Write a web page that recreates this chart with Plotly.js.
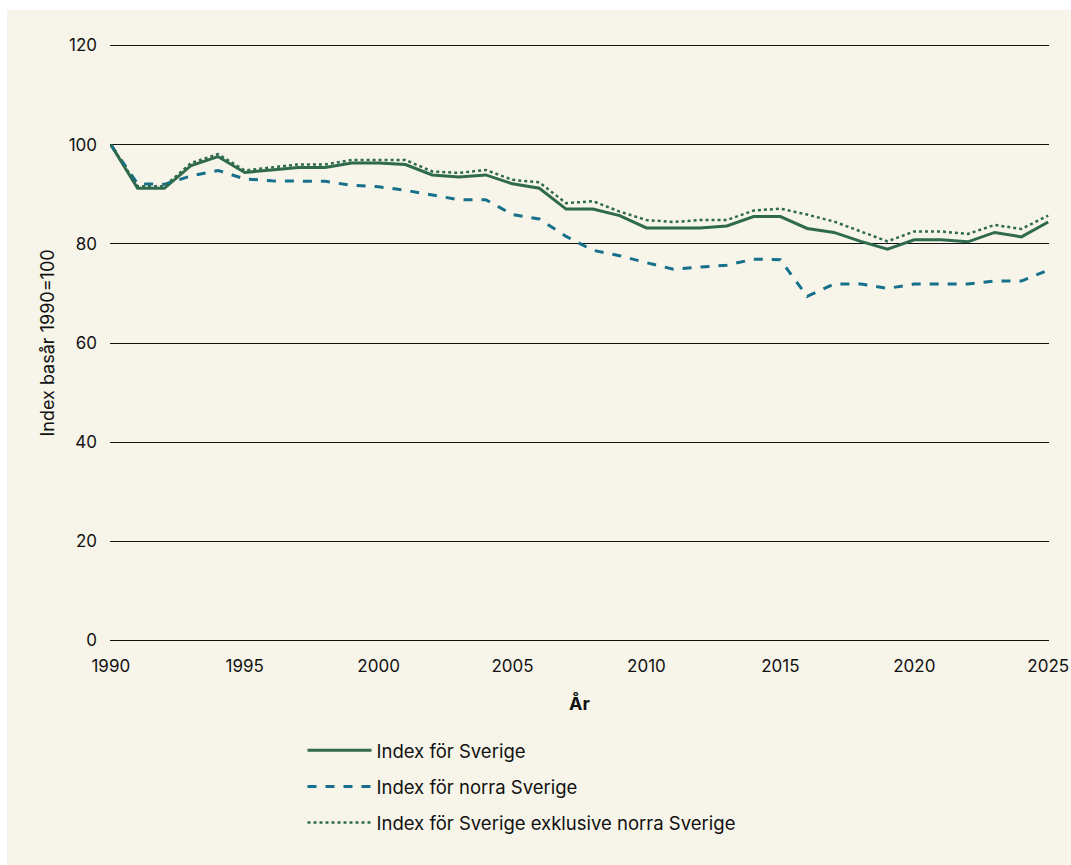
<!DOCTYPE html>
<html>
<head>
<meta charset="utf-8">
<script src="https://cdn.plot.ly/plotly-3.0.1.min.js"></script>
<style>
html,body{margin:0;padding:0;background:#ffffff;}
#chart{position:absolute;left:7px;top:10px;width:1064px;height:855px;}
</style>
</head>
<body>
<div id="chart"></div>
<script>
const years = [1990,1991,1992,1993,1994,1995,1996,1997,1998,1999,2000,2001,2002,2003,2004,2005,2006,2007,2008,2009,2010,2011,2012,2013,2014,2015,2016,2017,2018,2019,2020,2021,2022,2023,2024,2025];
const indexSverige = [100,91.2,91.2,95.8,97.6,94.4,94.9,95.4,95.4,96.3,96.3,96.0,93.9,93.5,93.9,92.1,91.2,87.0,87.0,85.7,83.2,83.2,83.2,83.6,85.5,85.5,83.1,82.3,80.5,78.9,80.8,80.8,80.4,82.3,81.4,84.4];
const indexNorra = [100,92.1,92.0,93.7,94.8,93.1,92.7,92.6,92.6,91.8,91.5,90.8,89.9,88.9,88.9,85.9,85.0,81.5,78.7,77.6,76.2,74.9,75.3,75.7,76.9,76.8,69.4,71.9,71.9,71.0,71.9,71.9,71.9,72.5,72.5,74.7];
const indexExkl = [100,91.6,91.6,96.3,98.1,94.8,95.4,96.0,96.0,96.9,96.9,96.9,94.6,94.3,94.9,92.9,92.4,88.2,88.6,86.5,84.8,84.4,84.8,84.8,86.7,87.1,85.9,84.5,82.5,80.5,82.5,82.5,82.0,83.8,83.0,85.7];
const seriesNames = ["Index för Sverige","Index för norra Sverige","Index för Sverige exklusive norra Sverige"];
const xTicks = [1990,1995,2000,2005,2010,2015,2020,2025];
const yTicks = [0,20,40,60,80,100,120];

const green = "#2f6a4e";
const teal = "#16708c";
const font = "Inter, 'Open Sans', sans-serif";

const traces = [
  {x: years, y: indexSverige, name: seriesNames[0], legendgroup: "a", type: "scatter", mode: "lines",
   line: {color: green, width: 3, dash: "solid"}},
  {x: years, y: indexNorra, name: seriesNames[1], legendgroup: "b", type: "scatter", mode: "lines",
   line: {color: teal, width: 3, dash: "dash"}},
  {x: years, y: indexExkl, name: seriesNames[2], legendgroup: "c", type: "scatter", mode: "lines",
   line: {color: green, width: 2.5, dash: "dot"}}
];

const layout = {
  width: 1064, height: 855,
  paper_bgcolor: "#f7f5e9",
  plot_bgcolor: "#f7f5e9",
  margin: {l: 103, r: 22, t: 33, b: 222},
  font: {family: font, size: 17, color: "#111111"},
  showlegend: true,
  legend: {
    x: 0.205, xanchor: "left", y: -0.148, yanchor: "top",
    orientation: "v", bgcolor: "rgba(0,0,0,0)",
    font: {family: font, size: 18.5, color: "#111111"},
    itemwidth: 64, tracegroupgap: 9, traceorder: "grouped"
  },
  xaxis: {
    range: [1989.97, 2025.03], tickvals: xTicks, ticktext: xTicks.map(String),
    showgrid: false, zeroline: false, showline: false, ticks: "",
    ticklabeloverflow: "allow",
    tickfont: {family: font, size: 17, color: "#111111"}, ticklabelstandoff: 11,
    title: {text: "<b>År</b>", font: {family: font, size: 18, color: "#111111"}, standoff: 22}
  },
  yaxis: {
    range: [-0.5, 120.5], tickvals: yTicks, showgrid: true, gridcolor: "#111111", gridwidth: 1,
    zeroline: false, showline: false, ticks: "",
    tickfont: {family: font, size: 17, color: "#111111"}, ticklabelstandoff: 12,
    title: {text: "Index basår 1990=100", font: {family: font, size: 18, color: "#111111"}, standoff: 9}
  }
};

Plotly.newPlot("chart", traces, layout, {displayModeBar: false, staticPlot: true});
</script>
</body>
</html>
